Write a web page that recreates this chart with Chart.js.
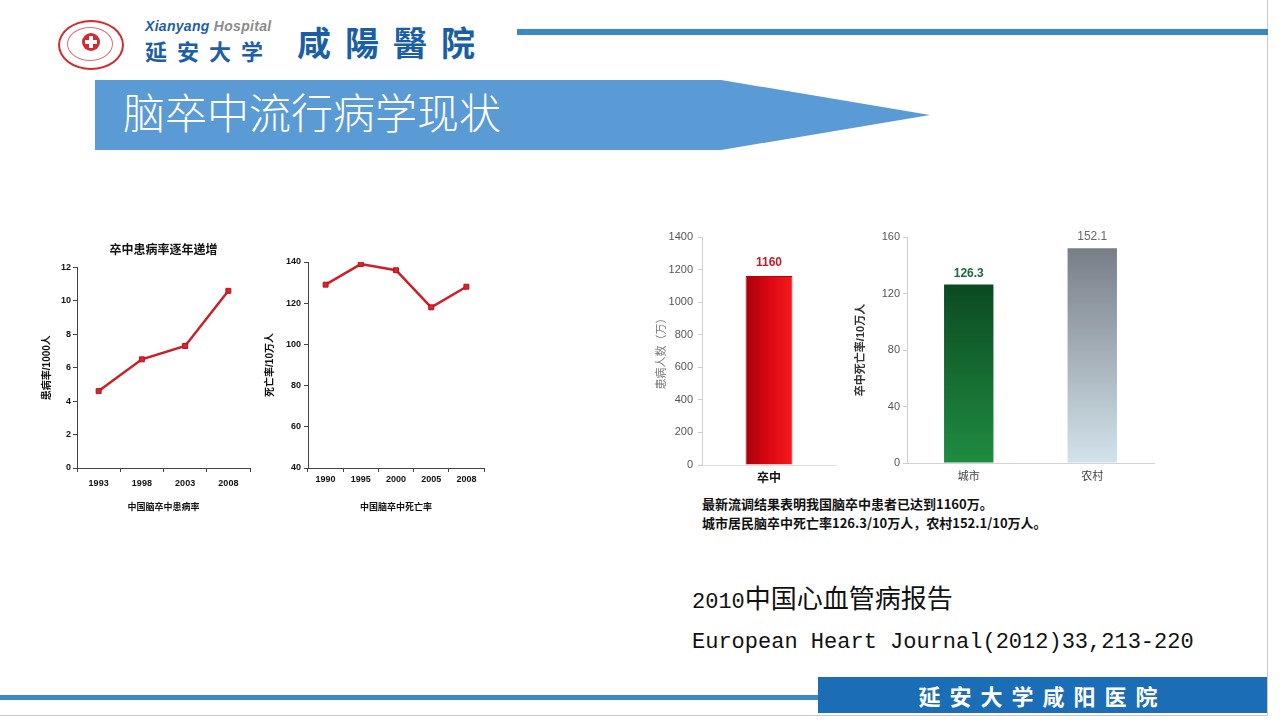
<!DOCTYPE html>
<html lang="zh">
<head>
<meta charset="utf-8">
<title>脑卒中流行病学现状</title>
<script src="https://cdn.jsdelivr.net/npm/chart.js@4.4.1/dist/chart.umd.min.js"></script>
<style>
  html, body { margin: 0; padding: 0; }
  body {
    width: 1280px; height: 720px; position: relative; overflow: hidden;
    background: #fff; font-family: "Noto Sans CJK SC", "Liberation Sans", sans-serif;
  }
  .abs { position: absolute; }
  canvas { position: absolute; }
  .edge-r { left: 1267px; top: 0; width: 1px; height: 716px; background: #c9c9c9; }
  .edge-b { left: 0; top: 715px; width: 1268px; height: 1px; background: #c9c9c9; }
  .topline { left: 517px; top: 29px; width: 751px; height: 6px; background: #3a88c3; }
  .logo { left: 58px; top: 20px; width: 62px; height: 46px; border: 2px solid #d42a2f; border-radius: 50%; }
  .logo-in { left: 7px; top: 5px; width: 44px; height: 32px; border: 1px solid #e07075; border-radius: 50%; }
  .logo-core { left: 14px; top: 5px; width: 18px; height: 18px; border-radius: 50%; background: #d42a2f; }
  .logo-core::before { content: ""; position: absolute; left: 7px; top: 3px; width: 4px; height: 12px; background: #fff; }
  .logo-core::after { content: ""; position: absolute; left: 3px; top: 7px; width: 12px; height: 4px; background: #fff; }
  .en { left: 145px; top: 18px; font: italic bold 14px "Liberation Sans", sans-serif; color: #1d5ea8; letter-spacing: 0.3px; }
  .en span { color: #8c8c8c; }
  .yd { left: 145px; top: 36px; font-size: 22px; font-weight: bold; color: #1d5ea8; letter-spacing: 10px; line-height: 28px; }
  .xy { left: 297px; top: 20px; font-size: 34px; font-weight: bold; color: #1a5ea6; letter-spacing: 14px; line-height: 44px; }
  .banner { left: 95px; top: 80px; width: 835px; height: 70px; background: #5b9bd5;
            clip-path: polygon(0 0, 626px 0, 835px 35px, 626px 70px, 0 70px); }
  .title { left: 123px; top: 86px; font-size: 42px; color: #fff; line-height: 50px; font-weight: 300; }
  .note { left: 702px; top: 494px; font-size: 13px; font-weight: bold; color: #111; line-height: 19px; }
  .ref { left: 692px; color: #111; white-space: nowrap; }
  .ref1 { top: 581px; font-size: 26px; line-height: 32px; }
  .ref2 { top: 627px; font: 22px "Liberation Mono", monospace; line-height: 32px; }
  .mono { font: 22px "Liberation Mono", monospace; }
  .footline { left: 0; top: 695px; width: 820px; height: 5px; background: #3e8ac6; }
  .footbox { left: 818px; top: 677px; width: 449px; height: 36px; background: #1b6eb5;
             color: #fff; font-size: 22px; font-weight: bold; letter-spacing: 9px; line-height: 36px; text-align: center; }
</style>
</head>
<body>
<div class="abs edge-r"></div>
<div class="abs edge-b"></div>

<div class="abs logo"><div class="abs logo-in"><div class="abs logo-core"></div></div></div>
<div class="abs en">Xianyang <span>Hospital</span></div>
<div class="abs yd">延安大学</div>
<div class="abs xy">咸陽醫院</div>
<div class="abs topline"></div>

<div class="abs banner"></div>
<div class="abs title">脑卒中流行病学现状</div>

<canvas id="prevChart" width="230" height="293" style="left:30px;top:232px;width:230px;height:293px"></canvas>
<canvas id="mortChart" width="240" height="293" style="left:260px;top:232px;width:240px;height:293px"></canvas>
<canvas id="patientChart" width="205" height="270" style="left:640px;top:220px;width:205px;height:270px"></canvas>
<canvas id="areaChart" width="325" height="270" style="left:845px;top:220px;width:325px;height:270px"></canvas>

<div class="abs note">最新流调结果表明我国脑卒中患者已达到1160万。<br>城市居民脑卒中死亡率126.3/10万人，农村152.1/10万人。</div>

<div class="abs ref ref1"><span class="mono">2010</span>中国心血管病报告</div>
<div class="abs ref ref2">European Heart Journal(2012)33,213-220</div>

<div class="abs footline"></div>
<div class="abs footbox">延安大学咸阳医院</div>

<script>
// ---- data ----
const prevYears = ["1993", "1998", "2003", "2008"];
const prevRates = [4.6, 6.5, 7.3, 10.6];          // 患病率 /1000人

const mortYears = ["1990", "1995", "2000", "2005", "2008"];
const mortRates = [129, 139, 136, 118, 128];      // 死亡率 /10万人

const patientCats = ["卒中"];
const patientCounts = [1160];                     // 患病人数（万）

const areaCats = ["城市", "农村"];
const areaRates = [126.3, 152.1];                 // 卒中死亡率 /10万人

Chart.defaults.font.family = "'Liberation Sans', 'Noto Sans CJK SC', sans-serif";
Chart.defaults.animation = false;

const RED = "#cc1f2a";

// draws the number above each bar
const valueLabels = {
  id: "valueLabels",
  afterDatasetsDraw(chart, args, opts) {
    const { ctx } = chart;
    const meta = chart.getDatasetMeta(0);
    const data = chart.data.datasets[0].data;
    ctx.save();
    ctx.textAlign = "center";
    ctx.textBaseline = "middle";
    meta.data.forEach((bar, i) => {
      ctx.fillStyle = opts.colors[i];
      ctx.font = opts.fonts[i];
      ctx.fillText(String(data[i]), bar.x, bar.y - opts.offset);
    });
    ctx.restore();
  },
};

const fixWidth = (w) => (scale) => { scale.width = w; };
const fixHeight = (h) => (scale) => { scale.height = h; };
const plainTick = (v) => String(v);

// shared axis setup for the two small line charts
const lineAxes = (yMin, yMax, step, yTitle, xTitle, yW, yTitlePad, yTickPad, xTickPad, xTitlePad) => ({
  x: {
    type: "category",
    offset: true,
    afterFit: fixHeight(57),
    grid: { display: true, drawOnChartArea: false, drawTicks: true, tickLength: 4, offset: true, color: "#444" },
    border: { color: "#444", width: 1 },
    ticks: { padding: xTickPad, color: "#111", font: { size: 9, weight: "bold" }, maxRotation: 0 },
    title: { display: true, text: xTitle, color: "#111", font: { size: 9, weight: "bold" }, padding: { top: 0, bottom: xTitlePad } },
  },
  y: {
    min: yMin,
    max: yMax,
    afterFit: fixWidth(yW),
    grid: { display: true, drawOnChartArea: false, drawTicks: true, tickLength: 4, color: "#444" },
    border: { color: "#444", width: 1 },
    ticks: { stepSize: step, padding: yTickPad, color: "#111", font: { size: 9, weight: "bold" }, callback: plainTick },
    title: { display: true, text: yTitle, color: "#111", font: { size: 10, weight: "bold" }, padding: { top: yTitlePad, bottom: 0 } },
  },
});

const lineDataset = (values) => ({
  data: values,
  borderColor: RED,
  borderWidth: 2.5,
  pointStyle: "rect",
  pointRadius: 3.5,
  pointBackgroundColor: "#d8262f",
  pointBorderColor: "#b8101c",
  pointBorderWidth: 1,
  tension: 0,
});

new Chart(document.getElementById("prevChart"), {
  type: "line",
  data: { labels: prevYears, datasets: [lineDataset(prevRates)] },
  options: {
    responsive: false,
    layout: { padding: { top: 0, right: 10, bottom: 0, left: 0 } },
    plugins: {
      legend: { display: false },
      tooltip: { enabled: false },
      title: {
        display: true,
        text: "卒中患病率逐年递增",
        fullSize: false,
        color: "#111",
        font: { size: 12, weight: "bold" },
        padding: { top: 11, bottom: 10 },
      },
    },
    scales: lineAxes(0, 12, 2, "患病率/1000人", "中国脑卒中患病率", 47, 11, 2, 6, 12),
  },
});

new Chart(document.getElementById("mortChart"), {
  type: "line",
  data: { labels: mortYears, datasets: [lineDataset(mortRates)] },
  options: {
    responsive: false,
    layout: { padding: { top: 30, right: 16, bottom: 0, left: 0 } },
    plugins: { legend: { display: false }, tooltip: { enabled: false } },
    scales: lineAxes(40, 140, 20, "死亡率/10万人", "中国脑卒中死亡率", 48, 4, 3, 2, 12),
  },
});

// gradient helpers for the bar fills
const redFill = (c) => {
  const chart = c.chart;
  if (!chart.chartArea) return "#d80a14";
  const x = chart.scales.x;
  const cx = x.getPixelForValue(c.dataIndex);
  const half = (x.width / patientCats.length) * 0.35 / 2;
  const g = chart.ctx.createLinearGradient(cx - half, 0, cx + half, 0);
  g.addColorStop(0, "#a8000e");
  g.addColorStop(0.5, "#dc0812");
  g.addColorStop(1, "#f41a1c");
  return g;
};

const areaStops = [
  ["#0c4a22", "#1f8c41"],
  ["#787e87", "#d3e3eb"],
];
const areaFill = (c) => {
  const chart = c.chart;
  if (!chart.chartArea) return areaStops[c.dataIndex][0];
  const y = chart.scales.y;
  const top = y.getPixelForValue(areaRates[c.dataIndex]);
  const bottom = y.getPixelForValue(0);
  const g = chart.ctx.createLinearGradient(0, top, 0, bottom);
  g.addColorStop(0, areaStops[c.dataIndex][0]);
  g.addColorStop(1, areaStops[c.dataIndex][1]);
  return g;
};

const lightY = (max, step, title, titleColor, titleWeight, yW, titlePad, tickPad) => ({
  min: 0,
  max: max,
  afterFit: fixWidth(yW),
  grid: { display: true, drawOnChartArea: false, drawTicks: true, tickLength: 4, color: "#cfcfcf" },
  border: { color: "#cfcfcf", width: 1 },
  ticks: { stepSize: step, padding: tickPad, color: "#555", font: { size: 11 }, callback: plainTick },
  title: { display: true, text: title, color: titleColor, font: { size: 11, weight: titleWeight }, padding: { top: titlePad, bottom: 0 } },
});

new Chart(document.getElementById("patientChart"), {
  type: "bar",
  data: {
    labels: patientCats,
    datasets: [{ data: patientCounts, backgroundColor: redFill, borderColor: "#b5060f", borderWidth: 1, barPercentage: 0.35, categoryPercentage: 1 }],
  },
  plugins: [valueLabels],
  options: {
    responsive: false,
    layout: { padding: { top: 17, right: 9, bottom: 0, left: 0 } },
    plugins: {
      legend: { display: false },
      tooltip: { enabled: false },
      valueLabels: { colors: ["#c41a2a"], fonts: ["bold 12px 'Liberation Sans'"], offset: 13 },
    },
    scales: {
      x: {
        afterFit: fixHeight(25),
        grid: { display: false, drawTicks: false },
        border: { color: "#dedede", width: 1 },
        ticks: { padding: 6, color: "#111", font: { size: 12, weight: "bold" } },
      },
      y: lightY(1400, 200, "患病人数（万）", "#777", "normal", 62, 15, 5),
    },
  },
});

new Chart(document.getElementById("areaChart"), {
  type: "bar",
  data: {
    labels: areaCats,
    datasets: [{ data: areaRates, backgroundColor: areaFill, borderWidth: 0, barPercentage: 0.4, categoryPercentage: 1 }],
  },
  plugins: [valueLabels],
  options: {
    responsive: false,
    layout: { padding: { top: 17, right: 16, bottom: 0, left: 0 } },
    plugins: {
      legend: { display: false },
      tooltip: { enabled: false },
      valueLabels: {
        colors: ["#1d6a3a", "#666"],
        fonts: ["bold 12px 'Liberation Sans'", "12px 'Liberation Sans'"],
        offset: 11,
      },
    },
    scales: {
      x: {
        afterFit: fixHeight(27),
        grid: { display: false, drawTicks: false },
        border: { color: "#d4d4d4", width: 1 },
        ticks: { padding: 7, color: "#444", font: { size: 11 } },
      },
      y: lightY(160, 40, "卒中死亡率/10万人", "#333", "bold", 62, 9, 3),
    },
  },
});
</script>
</body>
</html>
